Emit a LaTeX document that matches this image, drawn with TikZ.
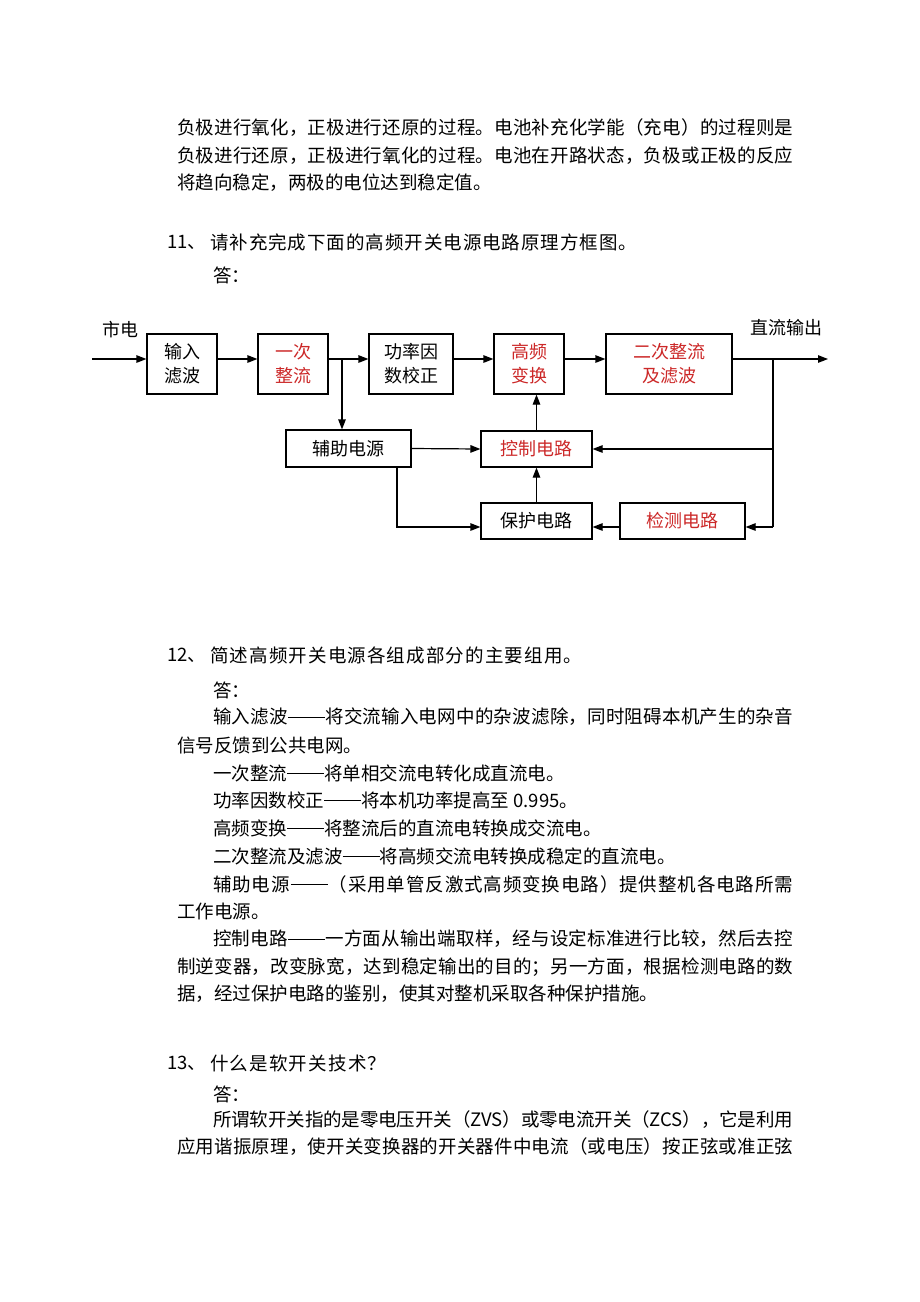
\documentclass[tikz,border=0pt]{standalone}
\usepackage{fontspec}
\setmainfont{Noto Sans CJK SC}
\usetikzlibrary{arrows.meta}
\definecolor{ansred}{RGB}{204,40,40}
\def\jlend{}
\def\jline#1{\jlloop#1\jlend}
\def\jlloop#1{\ifx#1\jlend\else#1\hskip 0pt plus 1fil minus 1fil\expandafter\jlloop\fi}
\newcommand\zvs{\mbox{ZVS}}
\newcommand\zcs{\mbox{ZCS}}
\newcommand\dd{\rule[0.34em]{2em}{0.055em}}
\newcommand\jbox[2]{\hbox to #1pt{\jline{#2}\unskip}}
\begin{document}
\begin{tikzpicture}[x=1pt,y=-1pt,
  txt/.style={anchor=west,inner sep=0pt,font=\fontsize{18.5}{22}\selectfont},
  blk/.style={draw,line width=1.2pt,inner sep=0pt,align=center,font=\fontsize{18}{24}\selectfont},
  redt/.style={text=ansred},
  arr/.style={line width=1.2pt,-{Triangle[length=10pt,width=7.5pt]}},
  ln/.style={line width=1.2pt},
  lbl/.style={inner sep=0pt,font=\fontsize{18}{22}\selectfont}]
\fill[white] (0,0) rectangle (920,1302);
\useasboundingbox (0,0) rectangle (920,1302);

% paragraph 1
\node[txt] (p1) at (177,128) {\jbox{616}{负极进行氧化，正极进行还原的过程。电池补充化学能（充电）的过程则是}};
\node[txt] (p2) at (177,156) {\jbox{616}{负极进行还原，正极进行氧化的过程。电池在开路状态，负极或正极的反应}};
\node[txt] (p3) at (177,183) {将趋向稳定，两极的电位达到稳定值。};

% question 11
\node[txt] (q11n) at (167,242) {11、};
\node[txt] (q11) at (210,242) {\jbox{427}{请补充完成下面的高频开关电源电路原理方框图。}};
\node[txt] (a11) at (213,275) {答：};

% diagram
\node[blk,minimum width=70pt,minimum height=60pt] (b1) at (182,364) {输入\\滤波};
\node[blk,redt,minimum width=70pt,minimum height=60pt] (b2) at (293,364) {一次\\整流};
\node[blk,minimum width=84pt,minimum height=60pt] (b3) at (411,364) {功率因\\数校正};
\node[blk,redt,minimum width=70pt,minimum height=60pt] (b4) at (529,364) {高频\\变换};
\node[blk,redt,minimum width=126pt,minimum height=60pt] (b5) at (669,364) {二次整流\\及滤波};
\node[blk,minimum width=125pt,minimum height=37pt] (aux) at (348.5,448.5) {辅助电源};
\node[blk,redt,minimum width=111pt,minimum height=36pt] (ctrl) at (536.5,449) {控制电路};
\node[blk,minimum width=111pt,minimum height=36pt] (prot) at (536.5,521) {保护电路};
\node[blk,redt,minimum width=125pt,minimum height=36pt] (det) at (682.5,521) {检测电路};
\node[lbl] (mains) at (120,330) {市电};
\node[lbl] (dcout) at (786,328) {直流输出};

\coordinate (in) at (92,359);
\coordinate (j1) at (342,359);
\coordinate (j3) at (773,359);
\coordinate (out) at (828,359);
\coordinate (j2) at (397,527);
\coordinate (j4) at (773,527);

\draw[arr] (in) -- (in -| b1.west);
\draw[arr] (b1.east |- in) -- (b2.west |- in);
\draw[arr] (b2.east |- in) -- (b3.west |- in);
\draw[arr] (j1) -- (j1 |- aux.north);
\draw[arr] (b3.east |- in) -- (b4.west |- in);
\draw[arr] (b4.east |- in) -- (b5.west |- in);
\draw[arr] (b5.east |- in) -- (out);
\draw[ln] (j3) -- (j4);
\draw[arr] (j3 |- ctrl.east) -- (ctrl.east);
\draw[arr] (j4) -- (det.east |- j4);
\draw[arr] (det.west |- j4) -- (prot.east |- j4);
\draw[arr] (prot.north) -- (ctrl.south);
\draw[arr] (ctrl.north) -- (ctrl.north |- b4.south);
\draw[arr] (aux.east) -- (ctrl.west);
\draw[arr] (aux.south -| j2) -- (j2) -- (prot.west |- j2);

% question 12
\node[txt] (q12n) at (167,655) {12、};
\node[txt] (q12) at (210,655) {\jbox{372}{简述高频开关电源各组成部分的主要组用。}};
\node[txt] (a12) at (213,690) {答：};
\node[txt] (r1) at (213,717) {\jbox{580}{输入滤波\dd 将交流输入电网中的杂波滤除，同时阻碍本机产生的杂音}};
\node[txt] (r2) at (177,745) {信号反馈到公共电网。};
\node[txt] (r3) at (213,773) {一次整流\dd 将单相交流电转化成直流电。};
\node[txt] (r4) at (213,800) {功率因数校正\dd 将本机功率提高至 0.995。};
\node[txt] (r5) at (213,828) {高频变换\dd 将整流后的直流电转换成交流电。};
\node[txt] (r6) at (213,856) {二次整流及滤波\dd 将高频交流电转换成稳定的直流电。};
\node[txt] (r7) at (213,884) {\jbox{580}{辅助电源\dd （采用单管反激式高频变换电路）提供整机各电路所需}};
\node[txt] (r8) at (177,911) {工作电源。};
\node[txt] (r9) at (213,939) {\jbox{580}{控制电路\dd 一方面从输出端取样，经与设定标准进行比较，然后去控}};
\node[txt] (r10) at (177,967) {\jbox{616}{制逆变器，改变脉宽，达到稳定输出的目的；另一方面，根据检测电路的数}};
\node[txt] (r11) at (177,994) {据，经过保护电路的鉴别，使其对整机采取各种保护措施。};

% question 13
\node[txt] (q13n) at (167,1063) {13、};
\node[txt] (q13) at (210,1063) {\jbox{176}{什么是软开关技术？}};
\node[txt] (a13) at (213,1094) {答：};
\node[txt] (s1) at (213,1120) {\jbox{580}{所谓软开关指的是零电压开关（\zvs）或零电流开关（\zcs），它是利用}};
\node[txt] (s2) at (177,1147) {\jbox{616}{应用谐振原理，使开关变换器的开关器件中电流（或电压）按正弦或准正弦}};
\end{tikzpicture}
\end{document}
